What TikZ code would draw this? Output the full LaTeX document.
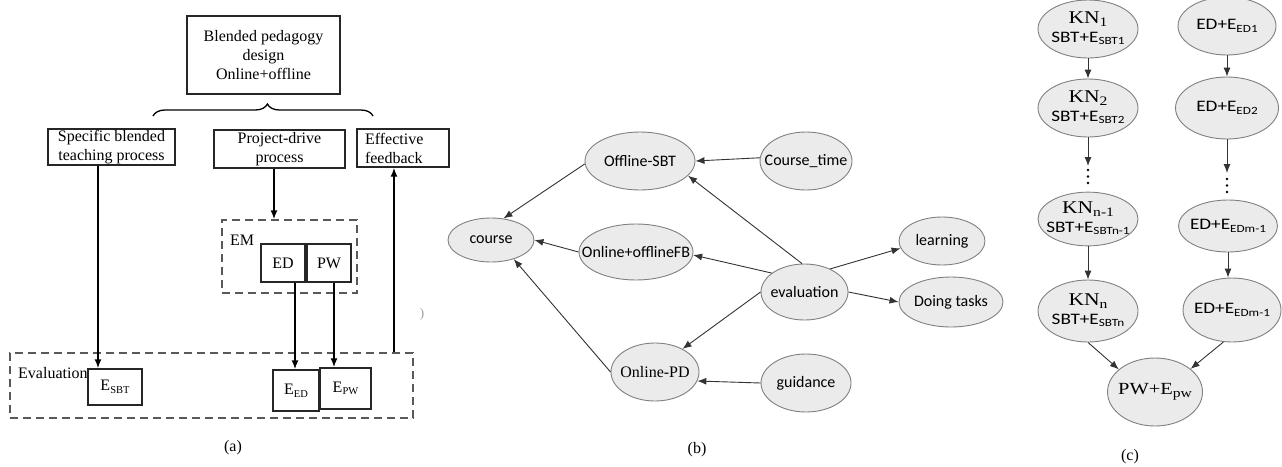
\documentclass[tikz,border=0pt]{standalone}
\usepackage{fontspec}
\setmainfont{Liberation Serif}
\newfontfamily\calib{Carlito}
\newfontfamily\calibw{Carlito}[FakeStretch=1.2]
\newfontfamily\timesw{Liberation Serif}[FakeStretch=1.2]
\usetikzlibrary{shapes.geometric,arrows.meta,decorations.pathreplacing}
\newcommand\lsub[1]{\raisebox{-0.35ex}{\fontsize{10.5}{10.5}\selectfont #1}}
\newcommand\csub[1]{\raisebox{-0.35ex}{\fontsize{11}{11}\selectfont #1}}
\newcommand\tsub[1]{\raisebox{-0.35ex}{\fontsize{13}{13}\selectfont #1}}
\newcommand\zw[1]{\makebox[0pt]{#1}}
\newcommand\twol[2]{\zw{\begin{tabular}{@{}c@{}}#1\\#2\end{tabular}}}
\begin{document}
\begin{tikzpicture}[x=1pt,y=-1pt,
  fs/.style={font=\fontsize{16}{19}\selectfont},
  cl/.style={font=\calib\fontsize{16}{19}\selectfont},
  cw/.style={font=\fontsize{16}{19}\selectfont},
  boxa/.style={draw=black!85, line width=1.4, inner sep=0, align=center, fs},
  dbox/.style={draw=black!65, line width=1.4, dash pattern=on 8pt off 5pt, inner sep=0},
  arrA/.style={line width=1.5, -{Latex[length=9pt,width=7pt]}},
  ell/.style={ellipse, draw=black!50, fill=black!8, line width=0.9, inner sep=0},
  arrB/.style={draw=black!80, line width=0.9, -{Latex[length=9pt,width=7pt]}},
  brc/.style={line width=1.3, decorate, decoration={brace, amplitude=12pt, aspect=0.52}}
]
\useasboundingbox (0,0) rectangle (1282,466);

% ---------------- panel (a) ----------------
\node[boxa, minimum width=153, minimum height=78] (top) at (263.5,55) {Blended pedagogy\\design\\Online+offline};
\coordinate (brL) at (153,116);
\coordinate (brR) at (373,116);
\draw[brc] (brL) -- (brR);

\node[boxa, minimum width=127, minimum height=36] (spec) at (111.5,147) {Specific blended\\teaching process};
\node[boxa, minimum width=131, minimum height=38] (proj) at (279.5,149) {Project-drive\\process};
\node[boxa, minimum width=92, minimum height=38, align=left, text width=76] (feed) at (403,148) {Effective\\feedback};

\node[dbox, minimum width=135, minimum height=73] (em) at (289.5,256.5) {};
\node[fs, inner sep=0] (emlab) at (242,240) {EM};
\node[boxa, minimum width=44, minimum height=38] (ed) at (283,263) {ED};
\node[boxa, minimum width=44, minimum height=38] (pw) at (329,263) {PW};

\node[dbox, minimum width=403, minimum height=65] (evbox) at (211.5,385.5) {};
\node[fs, anchor=west, inner sep=0] (evlab) at (18,373) {Evaluation};
\node[boxa, minimum width=54, minimum height=36] (esbt) at (115,387) {E\lsub{SBT}};
\node[boxa, minimum width=46, minimum height=41] (eed) at (296,390.5) {E\lsub{ED}};
\node[boxa, minimum width=51, minimum height=41] (epw) at (345.5,388.5) {E\lsub{PW}};

\coordinate (cA) at (98,0);
\coordinate (cB) at (274,0);
\coordinate (cC) at (295,0);
\coordinate (cD) at (334,0);
\coordinate (cE) at (394,0);
\draw[arrA] (spec.south -| cA) -- (esbt.north -| cA);
\draw[arrA] (proj.south -| cB) -- (em.north -| cB);
\draw[arrA] (ed.south -| cC) -- (eed.north -| cC);
\draw[arrA] (pw.south -| cD) -- (epw.north -| cD);
\draw[arrA] (evbox.north -| cE) -- (feed.south -| cE);

\node[text=black!40, font=\fontsize{13}{13}\selectfont, inner sep=0] (stray) at (422,314) {)};
\node[fs] (capa) at (233,448) {(a)};

% ---------------- panel (b) ----------------
\node[ell, cl, minimum width=110, minimum height=58] (osbt) at (640,161) {\zw{Offline-SBT}};
\node[ell, cl, minimum width=92, minimum height=58] (ct) at (806,161) {\zw{Course\_time}};
\node[ell, cl, minimum width=86, minimum height=44] (course) at (491,240) {\zw{course}};
\node[ell, cl, minimum width=114, minimum height=56] (fb) at (636,252) {\zw{Online+offlineFB}};
\node[ell, cl, minimum width=87, minimum height=56] (eval) at (804.5,292) {\zw{evaluation}};
\node[ell, fs, minimum width=88, minimum height=58] (opd) at (655,372) {\zw{Online-PD}};
\node[ell, cl, minimum width=90, minimum height=58] (gd) at (806,383) {\zw{guidance}};
\node[ell, cl, minimum width=86, minimum height=48] (learn) at (942,241) {\zw{learning}};
\node[ell, cl, minimum width=104, minimum height=50] (dt) at (951,302) {\zw{Doing tasks}};

\draw[arrB] (ct.176) -- (osbt.east);
\draw[arrB] (eval.95) -- (osbt.-17);
\draw[arrB] (osbt.183) -- (course.60);
\draw[arrB] (fb.west) -- (course.east);
\draw[arrB] (opd.west) -- (course.-40);
\draw[arrB] (eval.150) -- (fb.-3);
\draw[arrB] (eval.west) -- (opd.40);
\draw[arrB] (eval.42) -- (learn.190);
\draw[arrB] (eval.east) -- (dt.west);
\draw[arrB] (gd.west) -- (opd.-12);

\node[fs] (capb) at (697,450) {(b)};

% ---------------- panel (c) ----------------
\node[ell, cw, minimum width=100, minimum height=58] (kn1) at (1088,29) {\twol{\timesw\fontsize{18}{19}\selectfont KN\tsub{1}}{\calibw SBT+E\csub{SBT1}}};
\node[ell, cw, minimum width=98, minimum height=58] (ed1) at (1227,26) {\zw{\calibw ED+E\csub{ED1}}};
\node[ell, cw, minimum width=100, minimum height=58] (kn2) at (1088,108) {\twol{\timesw\fontsize{18}{19}\selectfont KN\tsub{2}}{\calibw SBT+E\csub{SBT2}}};
\node[ell, cw, minimum width=103, minimum height=62] (ed2) at (1227,108) {\zw{\calibw ED+E\csub{ED2}}};
\node[ell, cw, minimum width=100, minimum height=52] (kn3) at (1088,219) {\twol{\timesw\fontsize{18}{19}\selectfont KN\tsub{n-1}}{\calibw SBT+E\csub{SBTn-1}}};
\node[ell, cw, minimum width=99, minimum height=52] (ed3) at (1228,226) {\zw{\calibw ED+E\csub{EDm-1}}};
\node[ell, cw, minimum width=100, minimum height=62] (kn4) at (1088,311) {\twol{\timesw\fontsize{18}{19}\selectfont KN\tsub{n}}{\calibw SBT+E\csub{SBTn}}};
\node[ell, cw, minimum width=98, minimum height=64] (ed4) at (1232,310) {\zw{\calibw ED+E\csub{EDm-1}}};
\node[ell, cw, minimum width=95, minimum height=68] (pwn) at (1155,392) {\zw{\timesw\fontsize{17}{19}\selectfont PW+E\tsub{pw}}};

\coordinate (kdots) at (1088,166);
\coordinate (edots) at (1227,173);
\draw[arrB] (kn1.south) -- (kn2.north);
\draw[arrB] (ed1.south) -- (ed2.north);
\draw[arrB] (kn2.south) -- (kdots);
\draw[arrB] (ed2.south) -- (edots);
\foreach \d in {4,10.5,17} {
  \fill (1088,166+\d) circle (1.3);
  \fill (1227,175+\d) circle (1.3);
}
\draw[arrB] (kn3.south) -- (kn4.north);
\draw[arrB] (ed3.south) -- (ed4.north -| ed3.south);
\draw[arrB] (kn4.south) -- (pwn.148);
\draw[arrB] (ed4.-105) -- (pwn.33);

\node[fs] (capc) at (1130,457) {(c)};
\end{tikzpicture}
\end{document}
